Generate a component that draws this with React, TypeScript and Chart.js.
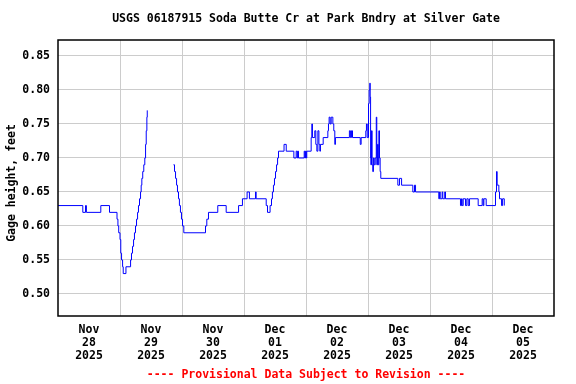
import React, { useEffect, useRef } from 'react';
import { Chart, registerables } from 'chart.js';

Chart.register(...registerables);

// Hours since Nov 28 2025 00:00 (local)
const hours = [
  0, 9.6, 10.65, 11.0, 16.57, 19.94, 22.84, 23.2, 23.5, 24.0, 24.3, 24.6, 25.0, 25.25,
  26.3, 28.1, 28.45, 28.85, 29.25, 29.6, 30.0, 30.4, 30.8, 31.15, 31.55, 31.95, 32.2,
  32.45, 32.8, 33.2, 33.6, 33.9, 34.15, 34.4, 34.55,
  40,
  44.7, 45.1, 45.5, 45.9, 46.25, 46.65, 47.0, 47.4, 47.8, 48.2, 48.7, 57.1, 57.6, 58.25,
  61.85, 65.1, 69.9, 71.4, 73.2, 74.1, 76.45, 76.7, 80.6, 81.1, 82.1, 82.65, 83.0, 83.4,
  83.8, 84.2, 84.6, 85.0, 85.35, 87.5, 88.35, 91.3, 92.2, 92.6, 92.8, 93.1, 95.3, 95.55,
  95.8, 96.1, 96.3, 98.0, 98.25, 98.5, 99.4, 99.8, 100.2, 100.6, 101.0, 101.35, 101.6,
  102.65, 104.45, 104.7, 104.95, 105.35, 105.75, 106.4, 106.75, 107.15, 107.4, 112.8,
  113.2, 113.6, 114.0, 117.0, 117.35, 119.15, 119.4, 119.7, 120.2, 120.45, 120.7, 120.85,
  121.0, 121.1, 121.35, 121.6, 121.85, 122.1, 122.4, 122.8, 123.2, 123.4, 123.7, 123.95,
  124.2, 124.45, 124.7, 124.95, 131.55, 132.2, 133.0, 137.35, 138.0, 138.4, 147.4, 147.7,
  147.95, 148.7, 148.95, 149.7, 150.0, 155.8, 156.2, 156.45, 156.85, 157.75, 158.25,
  158.8, 159.3, 162.65, 164.2, 164.6, 164.85, 165.75, 169.35, 169.75, 170.0, 170.25,
  170.65, 170.9, 171.7, 172.1, 172.75,
];

// Gage height, feet
const gage = [
  0.63, 0.62, 0.63, 0.62, 0.63, 0.62, 0.61, 0.60, 0.59, 0.58, 0.56, 0.55, 0.54, 0.53,
  0.54, 0.55, 0.56, 0.57, 0.58, 0.59, 0.60, 0.61, 0.62, 0.63, 0.64, 0.65, 0.66,
  0.67, 0.68, 0.69, 0.70, 0.72, 0.74, 0.76, 0.77,
  null,
  0.69, 0.68, 0.67, 0.66, 0.65, 0.64, 0.63, 0.62, 0.61, 0.60, 0.59, 0.60, 0.61, 0.62,
  0.63, 0.62, 0.63, 0.64, 0.65, 0.64, 0.65, 0.64, 0.63, 0.62, 0.63, 0.64, 0.65, 0.66,
  0.67, 0.68, 0.69, 0.70, 0.71, 0.72, 0.71, 0.70, 0.71, 0.70, 0.71, 0.70, 0.71, 0.70,
  0.71, 0.70, 0.71, 0.73, 0.75, 0.73, 0.74, 0.72, 0.71, 0.74, 0.72, 0.71, 0.72,
  0.73, 0.74, 0.75, 0.76, 0.75, 0.76, 0.75, 0.74, 0.72, 0.73, 0.74,
  0.73, 0.74, 0.73, 0.72, 0.73, 0.74, 0.75, 0.73, 0.78, 0.80, 0.81, 0.79,
  0.70, 0.69, 0.74, 0.69, 0.68, 0.70, 0.69, 0.70, 0.76, 0.69, 0.72, 0.69,
  0.74, 0.70, 0.68, 0.67, 0.66, 0.67, 0.66, 0.65, 0.66, 0.65, 0.64, 0.65,
  0.64, 0.65, 0.64, 0.65, 0.64, 0.63, 0.64, 0.63, 0.64, 0.63, 0.64,
  0.63, 0.64, 0.63, 0.64, 0.63, 0.64, 0.63, 0.65, 0.68, 0.66, 0.66,
  0.65, 0.64, 0.63, 0.64, 0.63,
];

const dayLabels = [
  ['Nov', '28', '2025'],
  ['Nov', '29', '2025'],
  ['Nov', '30', '2025'],
  ['Dec', '01', '2025'],
  ['Dec', '02', '2025'],
  ['Dec', '03', '2025'],
  ['Dec', '04', '2025'],
  ['Dec', '05', '2025'],
];

const yTicks = [0.5, 0.55, 0.6, 0.65, 0.7, 0.75, 0.8, 0.85];

const titleText = 'USGS 06187915 Soda Butte Cr at Park Bndry at Silver Gate';
const yTitleText = 'Gage height, feet';
const footerText = '---- Provisional Data Subject to Revision ----';

const FONT = '"DejaVu Sans Mono", "Liberation Mono", monospace';
const FSIZE = 11.5;

export default function App() {
  const ref = useRef<HTMLCanvasElement | null>(null);

  useEffect(() => {
    const canvas = ref.current;
    if (!canvas) return;

    const textPlugin = {
      id: 'usgsText',
      afterDraw(chart: any) {
        const { ctx, chartArea } = chart;
        const { left, right, top, bottom } = chartArea;
        ctx.save();
        ctx.strokeStyle = '#000';
        ctx.lineWidth = 1.5;
        ctx.strokeRect(left, top, right - left, bottom - top);

        ctx.font = `bold ${FSIZE}px ${FONT}`;
        ctx.fillStyle = '#000';
        ctx.textAlign = 'center';
        ctx.textBaseline = 'middle';
        ctx.fillText(titleText, (left + right) / 2, 19);

        ctx.fillStyle = '#ff0000';
        ctx.fillText(footerText, (left + right) / 2, 375);

        ctx.fillStyle = '#000';
        ctx.translate(12, 183);
        ctx.rotate(-Math.PI / 2);
        ctx.fillText(yTitleText, 0, 0);
        ctx.restore();
      },
    };

    const chart = new Chart(canvas, {
      type: 'line',
      data: {
        datasets: [
          {
            data: hours.map((h, i) => ({ x: h, y: gage[i] })),
            borderColor: '#0000ff',
            borderWidth: 1,
            pointRadius: 0,
            stepped: 'before',
            spanGaps: false,
            fill: false,
          },
        ],
      },
      options: {
        animation: false,
        responsive: false,
        maintainAspectRatio: false,
        layout: { padding: { left: 0, right: 22, top: 40, bottom: 0 } },
        plugins: {
          legend: { display: false },
          tooltip: { enabled: false },
          title: { display: false },
        },
        scales: {
          x: {
            type: 'linear',
            min: 0,
            max: 192,
            afterBuildTicks: (s: any) => {
              const t = [];
              for (let v = 0; v <= 192; v += 12) t.push({ value: v });
              s.ticks = t;
            },
            afterFit: (s: any) => {
              s.height = 68;
            },
            grid: {
              color: (c: any) => {
                const v = c.tick ? c.tick.value : -1;
                return v > 0 && v < 192 && v % 24 === 0 ? '#cccccc' : 'rgba(0,0,0,0)';
              },
              lineWidth: 1,
              drawTicks: false,
            },
            border: { display: false },
            ticks: {
              autoSkip: false,
              maxRotation: 0,
              minRotation: 0,
              padding: 8,
              color: '#000',
              font: { family: FONT, size: FSIZE, weight: 'bold', lineHeight: 13 / FSIZE },
              callback: (v: any) => {
                const n = Number(v);
                if (n % 24 === 12) return dayLabels[(n - 12) / 24];
                return '';
              },
            },
          },
          y: {
            type: 'linear',
            min: 0.4676,
            max: 0.8735,
            afterBuildTicks: (s: any) => {
              s.ticks = yTicks.map((v) => ({ value: v }));
            },
            afterFit: (s: any) => {
              s.width = 58;
            },
            grid: { color: '#cccccc', lineWidth: 1, drawTicks: false },
            border: { display: false },
            ticks: {
              padding: 8,
              color: '#000',
              font: { family: FONT, size: FSIZE, weight: 'bold' },
              callback: (v: any) => Number(v).toFixed(2),
            },
          },
        },
      },
      plugins: [textPlugin],
    } as any);

    return () => chart.destroy();
  }, []);

  return (
    <div style={{ position: 'absolute', left: 0, top: 0, width: 576, height: 384, background: '#fff' }}>
      <canvas ref={ref} width={576} height={384} style={{ width: 576, height: 384, display: 'block' }} />
    </div>
  );
}
